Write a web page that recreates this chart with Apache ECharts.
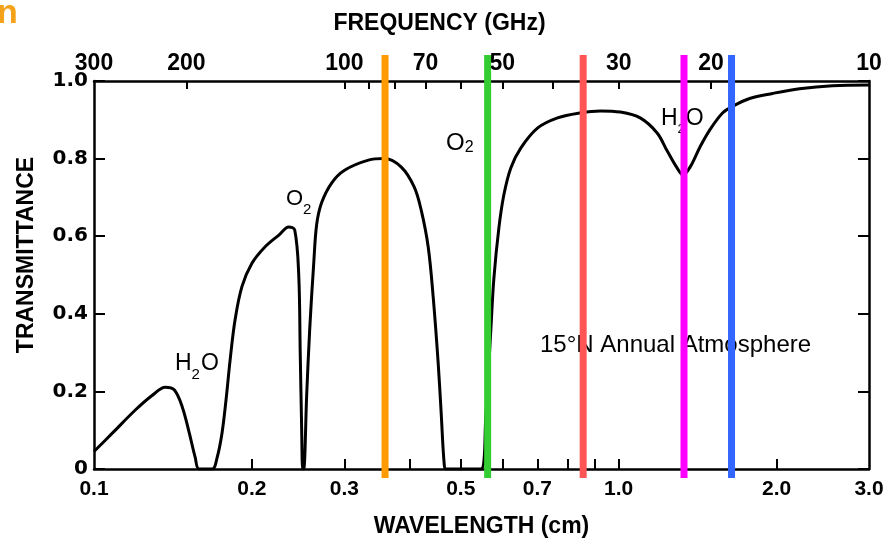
<!DOCTYPE html>
<html><head><meta charset="utf-8">
<script src="https://cdn.jsdelivr.net/npm/echarts@6/dist/echarts.min.js"></script>
<style>html,body{margin:0;padding:0;background:#fff}#c{width:894px;height:544px}</style>
</head><body><div id="c"></div>
<script>
// ---- data ----
const wavelengthCm = [0.1, 0.1085, 0.1199, 0.1292, 0.1367, 0.1422, 0.1473, 0.1519, 0.1559, 0.1586,
  0.1680, 0.1717, 0.1754, 0.1785, 0.1817, 0.1857, 0.1914, 0.2000, 0.2117, 0.2251,
  0.2351, 0.2413, 0.2456, 0.2472, 0.2488, 0.2499, 0.2510, 0.2543, 0.2577, 0.2623,
  0.2657, 0.2715, 0.2837, 0.3003, 0.3334, 0.3576, 0.3852, 0.4076, 0.4204, 0.4335,
  0.4431, 0.4529, 0.4589, 0.4649, 0.4689, 0.5463, 0.5583, 0.5707, 0.5782, 0.5910,
  0.6041, 0.6229, 0.6507, 0.7010, 0.7648, 0.8457, 0.9230, 1.007, 1.099, 1.184,
  1.237, 1.292, 1.326, 1.368, 1.429, 1.492, 1.579, 1.650, 1.777, 1.965,
  2.211, 2.555, 3.0];
const transmittance = [0.045, 0.093, 0.152, 0.19, 0.211, 0.204, 0.16, 0.093, 0.03, 0,
  0, 0.03, 0.093, 0.178, 0.28, 0.384, 0.47, 0.53, 0.572, 0.603,
  0.624, 0.616, 0.5, 0.3, 0.1, 0, 0, 0.19, 0.36, 0.53,
  0.63, 0.686, 0.737, 0.77, 0.796, 0.80, 0.778, 0.727, 0.667, 0.572,
  0.443, 0.273, 0.144, 0.015, 0, 0, 0.14, 0.36, 0.49, 0.62,
  0.706, 0.776, 0.827, 0.879, 0.905, 0.918, 0.923, 0.92, 0.905, 0.866,
  0.82, 0.776, 0.758, 0.778, 0.83, 0.874, 0.918, 0.935, 0.955, 0.968,
  0.98, 0.988, 0.99];
const channelWavelengthCm = [0.3587, 0.5627, 0.8558, 1.332, 1.641];
const wavelengthTicks = [0.2, 0.3, 0.4, 0.5, 0.6, 0.7, 0.8, 0.9, 1.0, 2.0];
const wavelengthLabels = ['0.1', '0.2', '0.3', '0.5', '0.7', '1.0', '2.0', '3.0'];
const frequencyTicksGHz = [200, 100, 90, 80, 70, 60, 50, 40, 30, 20];
const frequencyLabelsGHz = ['300', '200', '100', '70', '50', '30', '20', '10'];
const transmittanceLabels = ['0', '0.2', '0.4', '0.6', '0.8', '1.0'];

// ---- helpers / styles ----
const C_CM_GHZ = 30;
const lg = Math.log10;
const channelColors = ['#FF9A00', '#33CC33', '#FF5555', '#FF00FF', '#3366FF'];
const X_MIN = lg(0.1), X_MAX = lg(3);
const key = v => (+v).toFixed(5);
const wlMap = {}; wavelengthLabels.forEach(t => { wlMap[key(lg(parseFloat(t)))] = t; });
const fqMap = {}; frequencyLabelsGHz.forEach(t => { fqMap[key(lg(C_CM_GHZ / parseFloat(t)))] = t; });
const axisLine = { onZero: false, lineStyle: { color: '#000', width: 2.5 } };
const nameFont = { fontFamily: 'Liberation Sans', fontWeight: 'bold', fontSize: 23, color: '#000' };

const curve = wavelengthCm.map((w, i) => [lg(w), transmittance[i]]);
const channelSeries = channelWavelengthCm.map((w, i) => ({
  type: 'line', xAxisIndex: 0, yAxisIndex: 0, clip: false, symbol: 'none', z: 5,
  silent: true, animation: false,
  lineStyle: { color: channelColors[i], width: 7, cap: 'butt' },
  data: [[lg(w), -0.023], [lg(w), 1.067]]
}));

const chart = echarts.init(document.getElementById('c'), null, { renderer: 'canvas' });
const txt = (x, y, rich, text) => ({
  type: 'text', x, y, z: 1,
  style: { text, rich, fill: '#000', align: 'left', verticalAlign: 'top', fontFamily: 'Liberation Sans' }
});

chart.setOption({
  animation: false,
  backgroundColor: '#fff',
  grid: { left: 94, right: 25, top: 81, bottom: 75 },
  xAxis: [{
    type: 'value', position: 'bottom', min: X_MIN, max: X_MAX,
    name: 'WAVELENGTH (cm)', nameLocation: 'middle', nameGap: 46,
    nameTextStyle: nameFont,
    axisLine, splitLine: { show: false },
    axisTick: { inside: true, length: 10, lineStyle: { color: '#000', width: 2 },
      customValues: wavelengthTicks.map(lg) },
    axisLabel: { margin: 10, customValues: wavelengthLabels.map(t => lg(parseFloat(t))),
      formatter: v => wlMap[key(v)] || '',
      fontFamily: 'Liberation Sans', fontWeight: 'bold', fontSize: 21, color: '#000' }
  }, {
    type: 'value', position: 'top', min: X_MIN, max: X_MAX,
    name: 'FREQUENCY (GHz)', nameLocation: 'middle', nameGap: 46,
    nameTextStyle: Object.assign({ padding: [0, 84, 0, 0] }, nameFont),
    axisLine, splitLine: { show: false },
    axisTick: { inside: true, length: 8, lineStyle: { color: '#000', width: 2 },
      customValues: frequencyTicksGHz.map(f => lg(C_CM_GHZ / f)) },
    axisLabel: { margin: 6, customValues: frequencyLabelsGHz.map(t => lg(C_CM_GHZ / parseFloat(t))),
      formatter: v => fqMap[key(v)] || '',
      fontFamily: 'Liberation Sans', fontWeight: 'bold', fontSize: 23, color: '#000' }
  }],
  yAxis: [{
    type: 'value', position: 'left', min: 0, max: 1, interval: 0.2,
    axisLine, splitLine: { show: false },
    axisTick: { inside: true, length: 11, lineStyle: { color: '#000', width: 2 } },
    axisLabel: { margin: 6, formatter: v => transmittanceLabels[Math.round(v / 0.2)],
      fontFamily: 'DejaVu Sans', fontWeight: 'bold', fontSize: 20, color: '#000' }
  }, {
    type: 'value', position: 'right', min: 0, max: 1, interval: 0.2,
    axisLine, splitLine: { show: false },
    axisTick: { inside: true, length: 11, lineStyle: { color: '#000', width: 2 } },
    axisLabel: { show: false }
  }],
  series: [{
    type: 'line', xAxisIndex: 0, yAxisIndex: 0, symbol: 'none', z: 3,
    smooth: 0.35,
    lineStyle: { color: '#000', width: 3 },
    data: curve
  }].concat(channelSeries),
  graphic: [
    { type: 'text', x: -3, y: -3, z: 1, style: { text: 'n', fill: '#F5A21B', font: 'bold 34px "Liberation Sans"' } },
    { type: 'text', x: 27, y: 255, rotation: Math.PI / 2, z: 1,
      style: { text: 'TRANSMITTANCE', fill: '#000', font: 'bold 23px "Liberation Sans"', align: 'center', verticalAlign: 'middle' } },
    txt(175, 352, {
      a: { fontSize: 23, fontFamily: 'Liberation Sans', lineHeight: 24, verticalAlign: 'top' },
      s: { fontSize: 15, fontFamily: 'Liberation Sans', lineHeight: 15, padding: [15, 1, 0, 0], verticalAlign: 'top' }
    }, '{a|H}{s|2}{a|O}'),
    txt(286, 188, {
      a: { fontSize: 22, fontFamily: 'Liberation Sans', lineHeight: 22, verticalAlign: 'top' },
      s: { fontSize: 15, fontFamily: 'Liberation Sans', lineHeight: 15, padding: [14, 0, 0, 0], verticalAlign: 'top' }
    }, '{a|O}{s|2}'),
    txt(446, 131, {
      a: { fontSize: 24, fontFamily: 'Liberation Sans', lineHeight: 24, verticalAlign: 'top' },
      s: { fontSize: 16, fontFamily: 'Liberation Sans', lineHeight: 16, padding: [9, 0, 0, 0], verticalAlign: 'top' }
    }, '{a|O}{s|2}'),
    txt(661, 107, {
      a: { fontSize: 23, fontFamily: 'Liberation Sans', lineHeight: 24, verticalAlign: 'top' },
      s: { fontSize: 13, fontFamily: 'Liberation Sans', lineHeight: 13, padding: [16, 1, 0, 0], verticalAlign: 'top' }
    }, '{a|H}{s|2}{a|O}'),
    { type: 'text', x: 540, y: 333, z: 1,
      style: { text: '15°N Annual Atmosphere', fill: '#000', font: '24px "Liberation Sans"' } }
  ]
});
</script></body></html>
